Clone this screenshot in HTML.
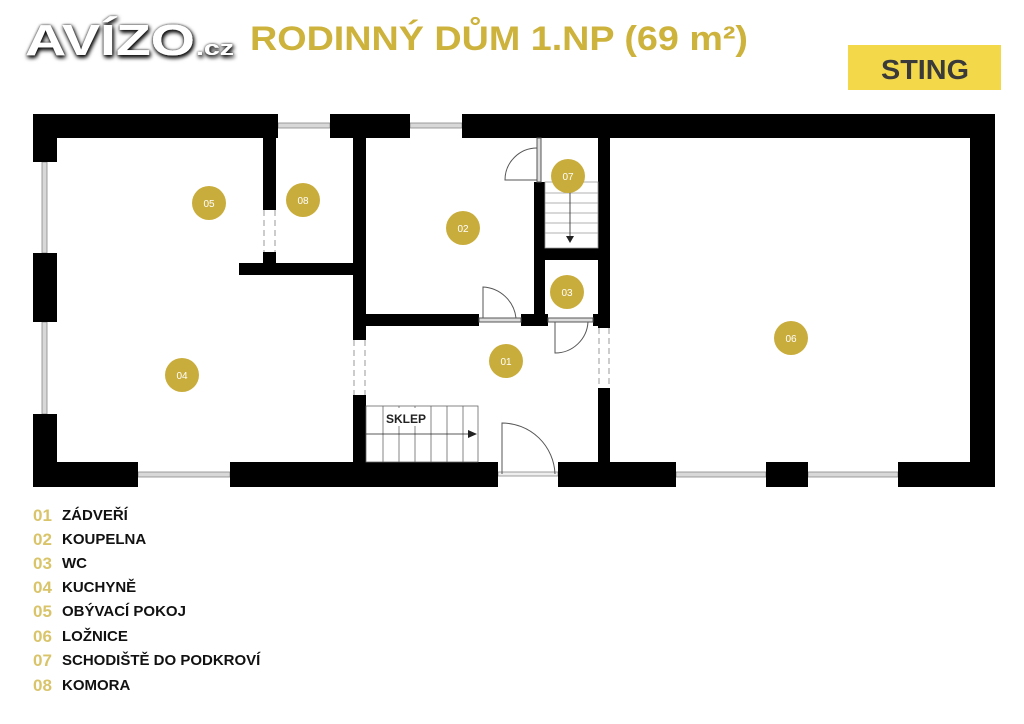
<!DOCTYPE html>
<html><head><meta charset="utf-8"><style>
html,body{margin:0;padding:0;background:#fff;}
svg{display:block;}
text{font-family:"Liberation Sans",sans-serif;}
</style></head><body>
<svg width="1024" height="724" viewBox="0 0 1024 724" xmlns="http://www.w3.org/2000/svg">
<defs>
<filter id="sh" x="-10%" y="-30%" width="120%" height="160%"><feDropShadow dx="1" dy="2" stdDeviation="2" flood-color="#000" flood-opacity="0.95"/><feDropShadow dx="0" dy="0" stdDeviation="1" flood-color="#000" flood-opacity="0.8"/></filter>
</defs>
<rect width="1024" height="724" fill="#fff"/>
<!-- logo -->
<text x="25" y="55" font-size="44" font-weight="bold" fill="#fff" filter="url(#sh)" textLength="170" lengthAdjust="spacingAndGlyphs">AVÍZO</text>
<text x="196" y="55" font-size="20" font-weight="bold" fill="#fff" filter="url(#sh)" textLength="38" lengthAdjust="spacingAndGlyphs">.cz</text>
<!-- title -->
<text x="250" y="50" font-size="34" font-weight="bold" fill="#cdb23c" textLength="498" lengthAdjust="spacingAndGlyphs">RODINNÝ DŮM 1.NP (69 m²)</text>
<!-- STING -->
<rect x="848" y="45" width="153" height="45" fill="#f3d94a"/>
<text x="881" y="79" font-size="28" font-weight="bold" fill="#3a3a3a" textLength="88" lengthAdjust="spacingAndGlyphs">STING</text>

<g fill="#d8d8d8" stroke="#888" stroke-width="0.8">
<rect x="278" y="123" width="52" height="5"/>
<rect x="410" y="123" width="52" height="5"/>
<rect x="42" y="162" width="5" height="91"/>
<rect x="42" y="322" width="5" height="92"/>
<rect x="138" y="472" width="92" height="5"/>
<rect x="676" y="472" width="90" height="5"/>
<rect x="808" y="472" width="90" height="5"/>
<rect x="498" y="472" width="60" height="4" fill="#eee"/>
</g>
<g fill="#000">
<rect x="33" y="114" width="245" height="24"/>
<rect x="330" y="114" width="80" height="24"/>
<rect x="462" y="114" width="533" height="24"/>
<rect x="33" y="114" width="24" height="48"/>
<rect x="33" y="253" width="24" height="69"/>
<rect x="33" y="414" width="24" height="73"/>
<rect x="970" y="114" width="25" height="373"/>
<rect x="33" y="462" width="105" height="25"/>
<rect x="230" y="462" width="268" height="25"/>
<rect x="558" y="462" width="118" height="25"/>
<rect x="766" y="462" width="42" height="25"/>
<rect x="898" y="462" width="97" height="25"/>
<rect x="263" y="138" width="13" height="72"/>
<rect x="263" y="252" width="13" height="12"/>
<rect x="239" y="263" width="116" height="12"/>
<rect x="353" y="138" width="13" height="202"/>
<rect x="353" y="395" width="13" height="67"/>
<rect x="366" y="314" width="113" height="12"/>
<rect x="521" y="314" width="27" height="12"/>
<rect x="534" y="182" width="11" height="144"/>
<rect x="545" y="248" width="53" height="12"/>
<rect x="598" y="138" width="12" height="190"/>
<rect x="593" y="314" width="17" height="12"/>
<rect x="598" y="388" width="12" height="74"/>
</g>
<g stroke="#999" stroke-width="1" stroke-dasharray="6,4" fill="none">
<line x1="264" y1="210" x2="264" y2="252"/><line x1="275" y1="210" x2="275" y2="252"/>
<line x1="354" y1="340" x2="354" y2="395"/><line x1="365" y1="340" x2="365" y2="395"/>
<line x1="599" y1="328" x2="599" y2="388"/><line x1="609" y1="328" x2="609" y2="388"/>
</g>
<g stroke="#555" stroke-width="1" fill="none">
<rect x="537" y="138" width="4" height="44" fill="#ddd"/>
<path d="M537 180 L505 180 A32 32 0 0 1 537 148"/>
<rect x="479" y="318" width="42" height="4" fill="#ddd"/>
<path d="M483 318 L483 287 A35 35 0 0 1 516 318"/>
<rect x="548" y="318" width="45" height="4" fill="#ddd"/>
<path d="M555 322 L555 353 A33 33 0 0 0 588 322"/>
<path d="M502 474 L502 423 A53 53 0 0 1 555 474"/>
</g>
<g stroke="#999" stroke-width="0.8" fill="none">
<rect x="545" y="182" width="53" height="66"/>
<line x1="545" y1="193" x2="598" y2="193"/><line x1="545" y1="203" x2="598" y2="203"/>
<line x1="545" y1="213" x2="598" y2="213"/><line x1="545" y1="223" x2="598" y2="223"/>
<line x1="545" y1="233" x2="598" y2="233"/>
<line x1="570" y1="182" x2="570" y2="238" stroke="#222"/>
</g>
<path d="M566 236 L574 236 L570 243 Z" fill="#222"/>
<g stroke="#666" stroke-width="0.8" fill="none">
<rect x="366" y="406" width="112" height="56"/>
<line x1="383" y1="406" x2="383" y2="462"/><line x1="399" y1="406" x2="399" y2="462"/>
<line x1="415" y1="406" x2="415" y2="462"/><line x1="431" y1="406" x2="431" y2="462"/>
<line x1="447" y1="406" x2="447" y2="462"/><line x1="463" y1="406" x2="463" y2="462"/>
<line x1="366" y1="434" x2="470" y2="434" stroke="#222"/>
</g>
<rect x="384" y="408" width="46" height="18" fill="#fff"/>
<text x="386" y="423" font-size="12" font-weight="bold" fill="#222">SKLEP</text>
<path d="M468 430 L477 434 L468 438 Z" fill="#222"/>
<g fill="#c9ad3c">
<circle cx="209" cy="203" r="17"/><circle cx="303" cy="200" r="17"/>
<circle cx="463" cy="228" r="17"/><circle cx="568" cy="176" r="17"/>
<circle cx="567" cy="292" r="17"/><circle cx="791" cy="338" r="17"/>
<circle cx="506" cy="361" r="17"/><circle cx="182" cy="375" r="17"/>
</g>
<g fill="#fff" font-size="10" text-anchor="middle">
<text x="209" y="207">05</text><text x="303" y="204">08</text>
<text x="463" y="232">02</text><text x="568" y="180">07</text>
<text x="567" y="296">03</text><text x="791" y="342">06</text>
<text x="506" y="365">01</text><text x="182" y="379">04</text>
</g>
<g font-size="17" fill="#d9c46a" font-weight="bold">
<text x="33" y="521">01</text><text x="33" y="545">02</text><text x="33" y="569">03</text>
<text x="33" y="593">04</text><text x="33" y="617">05</text><text x="33" y="642">06</text>
<text x="33" y="666">07</text><text x="33" y="691">08</text>
</g>
<g font-size="15" fill="#111" font-weight="bold">
<text x="62" y="520">ZÁDVEŘÍ</text><text x="62" y="544">KOUPELNA</text><text x="62" y="568">WC</text>
<text x="62" y="592">KUCHYNĚ</text><text x="62" y="616">OBÝVACÍ POKOJ</text><text x="62" y="641">LOŽNICE</text>
<text x="62" y="665">SCHODIŠTĚ DO PODKROVÍ</text><text x="62" y="690">KOMORA</text>
</g>
</svg>
</body></html>
